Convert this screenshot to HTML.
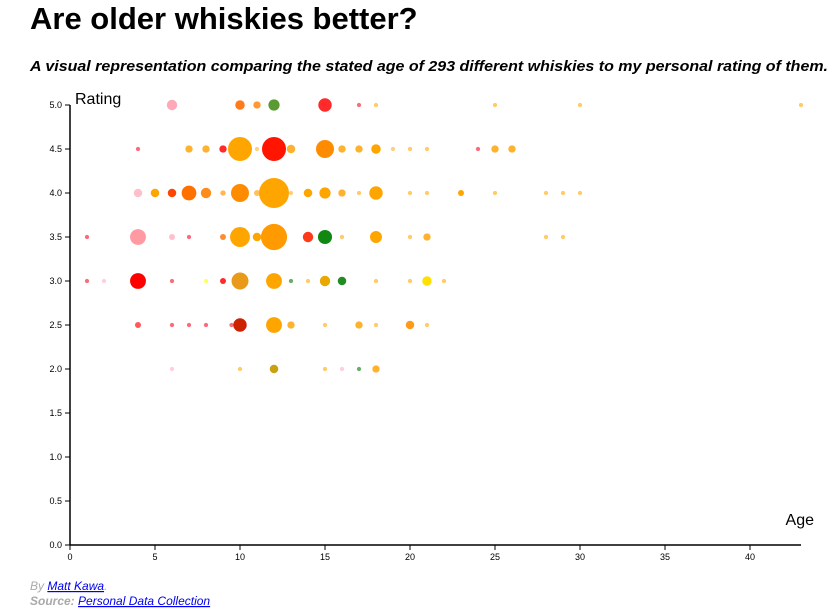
<!DOCTYPE html>
<html><head><meta charset="utf-8">
<style>
body{margin:0;background:#fff;font-family:"Liberation Sans",Arial,sans-serif;}
svg{display:block}
a{color:#00e;}
</style></head>
<body>
<svg id="chart" width="840" height="613">
<text x="30" y="29" font-size="31" font-weight="bold" fill="#000">Are older whiskies better?</text>
<text x="30" y="71" font-size="15" font-weight="bold" font-style="italic" fill="#000" textLength="798" lengthAdjust="spacingAndGlyphs">A visual representation comparing the stated age of 293 different whiskies to my personal rating of them.</text>
<g id="axes"></g>
<g id="marks"></g>
<text x="75" y="104" font-size="16" fill="#000">Rating</text>
<text x="814" y="525" font-size="16" fill="#000" text-anchor="end">Age</text>
<text x="30" y="590" font-size="12" font-style="italic" fill="#aaa">By <a href="#"><tspan fill="#00e" text-decoration="underline">Matt Kawa</tspan></a>.</text>
<text x="30" y="605" font-size="12" font-style="italic" fill="#aaa"><tspan font-weight="bold">Source:</tspan> <a href="#"><tspan fill="#00e" text-decoration="underline">Personal Data Collection</tspan></a></text>
</svg>
<script>
const ages =    [6,10,11,12,15,17,18,25,30,43,
  4,7,8,9,10,11,12,13,15,16,17,18,19,20,21,24,25,26,
  4,5,6,7,8,9,10,11,12,13,14,15,16,17,18,20,21,23,25,28,29,30,
  1,4,6,7,9,10,11,12,14,15,16,18,20,21,28,29,
  1,2,4,6,8,9,10,12,13,14,15,16,18,20,21,22,
  4,6,7,8,9.5,10,12,13,15,17,18,20,21,
  6,10,12,15,16,17,18];
const ratings = [5,5,5,5,5,5,5,5,5,5,
  4.5,4.5,4.5,4.5,4.5,4.5,4.5,4.5,4.5,4.5,4.5,4.5,4.5,4.5,4.5,4.5,4.5,4.5,
  4,4,4,4,4,4,4,4,4,4,4,4,4,4,4,4,4,4,4,4,4,4,
  3.5,3.5,3.5,3.5,3.5,3.5,3.5,3.5,3.5,3.5,3.5,3.5,3.5,3.5,3.5,3.5,
  3,3,3,3,3,3,3,3,3,3,3,3,3,3,3,3,
  2.5,2.5,2.5,2.5,2.5,2.5,2.5,2.5,2.5,2.5,2.5,2.5,2.5,
  2,2,2,2,2,2,2];
const counts =  [3,2.5,1.5,3.5,5,0.5,0.5,0.5,0.5,0.5,
  0.5,1.5,1.5,1.5,16,0.5,16,2,9,1.5,1.5,2.5,0.5,0.5,0.5,0.5,1.5,1.5,
  2,2,2,6,3,0.8,9,1,25,0.5,2,3.5,1.5,0.5,5,0.5,0.5,1,0.5,0.5,0.5,0.5,
  0.5,7,1,0.5,1,11,2,19,3,5.5,0.5,4,0.5,1.5,0.5,0.5,
  0.5,0.5,7,0.5,0.5,1,8,7,0.5,0.5,3,2,0.5,0.5,2.5,0.5,
  1,0.5,0.5,0.5,0.5,5,7,1.5,0.5,1.5,0.5,2,0.5,
  0.5,0.5,2,0.5,0.5,0.5,1.5];
const colors =  ["#ffa8b8","#ff7a1a","#ff9a33","#5a9a30","#ff2a2a","#ff6a7a","#ffcc66","#ffcc66","#ffcc66","#ffcc66",
  "#ff6a7a","#ffb22e","#ffb22e","#ff2a2a","#ffa500","#ffd080","#ff1500","#ffb22e","#ff8c00","#ffb22e","#ffb22e","#ffa500","#ffd080","#ffcc66","#ffcc66","#ff6a7a","#ffb22e","#ffb22e",
  "#ffc0cb","#ffa500","#ff4500","#ff7000","#ff8c1a","#ffb84d","#ff8c00","#ffc060","#ffa500","#ffd080","#ffa500","#ffa500","#ffb22e","#ffcc66","#ffa500","#ffcc66","#ffcc66","#ffa500","#ffcc66","#ffcc66","#ffcc66","#ffcc66",
  "#ff6a7a","#ff9aa2","#ffc0cb","#ff6a7a","#ff8c33","#ffa500","#ffa500","#ff9a00","#ff3a1a","#118811","#ffcc66","#ffa500","#ffcc66","#ffb22e","#ffcc66","#ffcc66",
  "#ff6a7a","#ffd0dc","#ff0000","#ff6a7a","#ffff66","#ff2a2a","#e89a18","#ffa500","#66b066","#ffcc66","#e8a800","#228b22","#ffcc66","#ffcc66","#ffe000","#ffcc66",
  "#ff5a5a","#ff6a7a","#ff6a7a","#ff6a7a","#ff6a7a","#cc2200","#ffa500","#ffb22e","#ffcc66","#ffb22e","#ffcc66","#ff9a1a","#ffcc66",
  "#ffd0dc","#ffcc66","#c8a010","#ffcc66","#ffd0dc","#66b066","#ffb22e"];
const xTicks = [0,5,10,15,20,25,30,35,40];
const yTicks = [0,0.5,1,1.5,2,2.5,3,3.5,4,4.5,5];

const NS="http://www.w3.org/2000/svg";
const X0=70, PXX=17, Y0=545, PXY=88;
function xs(v){return X0+v*PXX;}
function ys(v){return Y0-v*PXY;}
function mk(tag,attrs,parent){const e=document.createElementNS(NS,tag);for(const k in attrs)e.setAttribute(k,attrs[k]);parent.appendChild(e);return e;}
const axes=document.getElementById('axes'), marks=document.getElementById('marks');
let l=mk('line',{x1:X0,y1:ys(5),x2:X0,y2:Y0,stroke:'#000','stroke-width':1.5},axes);


l=mk('line',{x1:X0,y1:Y0,x2:xs(43),y2:Y0,stroke:'#000','stroke-width':1.5},axes);


yTicks.forEach(v=>{
  const t=mk('line',{x1:X0-5,y1:ys(v),x2:X0,y2:ys(v),stroke:'#000'},axes);
  
  
  const tx=mk('text',{x:X0-8,y:ys(v)+3,'font-size':9,'text-anchor':'end',fill:'#000'},axes);
  tx.textContent=v.toFixed(1);
  
  
});
xTicks.forEach(v=>{
  const t=mk('line',{x1:xs(v),y1:Y0,x2:xs(v),y2:Y0+5,stroke:'#000'},axes);
  
  
  const tx=mk('text',{x:xs(v),y:Y0+15,'font-size':9,'text-anchor':'middle',fill:'#000'},axes);
  tx.textContent=v;
  
  
});
ages.forEach((a,i)=>{
  const r=Math.max(2,3*Math.sqrt(counts[i]));
  const c=mk('circle',{cx:xs(a),cy:ys(ratings[i]),r:r,fill:colors[i]},marks);
  
  
});
</script>
</body></html>
